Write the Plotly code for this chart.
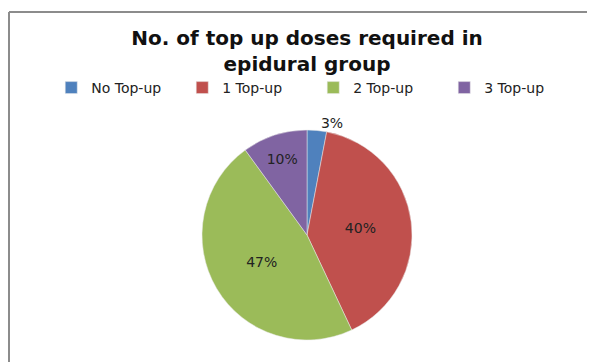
import plotly.graph_objects as go

categories = ["No Top-up", "1 Top-up", "2 Top-up", "3 Top-up"]
values = [3, 40, 47, 10]
colors = ["#4F81BD", "#C0504D", "#9BBB59", "#8064A2"]
text_positions = ["outside", "inside", "inside", "inside"]

# page body has an 8px margin, so the figure is 8px smaller than the window
W, H = 587, 354

fig = go.Figure(go.Pie(
    labels=categories,
    values=values,
    sort=False,
    direction="clockwise",
    rotation=0,
    marker=dict(colors=colors, line=dict(color="#E8E8E8", width=0.5)),
    textinfo="percent",
    texttemplate="%{percent:.0%}",
    textposition=text_positions,
    textfont=dict(family="DejaVu Sans", size=14, color="#222222"),
    insidetextorientation="horizontal",
    automargin=False,
    domain=dict(x=[0.1494, 0.8694], y=[1 - 332 / H, 1 - 122 / H]),
    showlegend=True,
))

fig.update_layout(
    width=W, height=H,
    margin=dict(l=0, r=0, t=0, b=0, pad=0, autoexpand=False),
    paper_bgcolor="white",
    title=dict(
        text="<b>No. of top up doses required in<br>epidural group</b>",
        x=299 / W, xanchor="center", y=1 - 37 / H, yanchor="top",
        font=dict(family="DejaVu Sans", size=20, color="#111111"),
        automargin=False,
    ),
    legend=dict(
        orientation="h", x=0.52, xanchor="center", y=1 - 80 / H, yanchor="middle",
        font=dict(family="DejaVu Sans", size=14, color="#222222"),
        entrywidth=86, itemwidth=30, traceorder="normal",
    ),
    shapes=[
        dict(type="line", xref="paper", yref="paper", x0=1 / W, x1=1, y0=1 - 4 / H, y1=1 - 4 / H,
             line=dict(color="#8C8C8C", width=2)),
        dict(type="line", xref="paper", yref="paper", x0=1 / W, x1=1 / W, y0=0, y1=1 - 4 / H,
             line=dict(color="#8C8C8C", width=2)),
    ],
)

fig.write_html("out.html")
